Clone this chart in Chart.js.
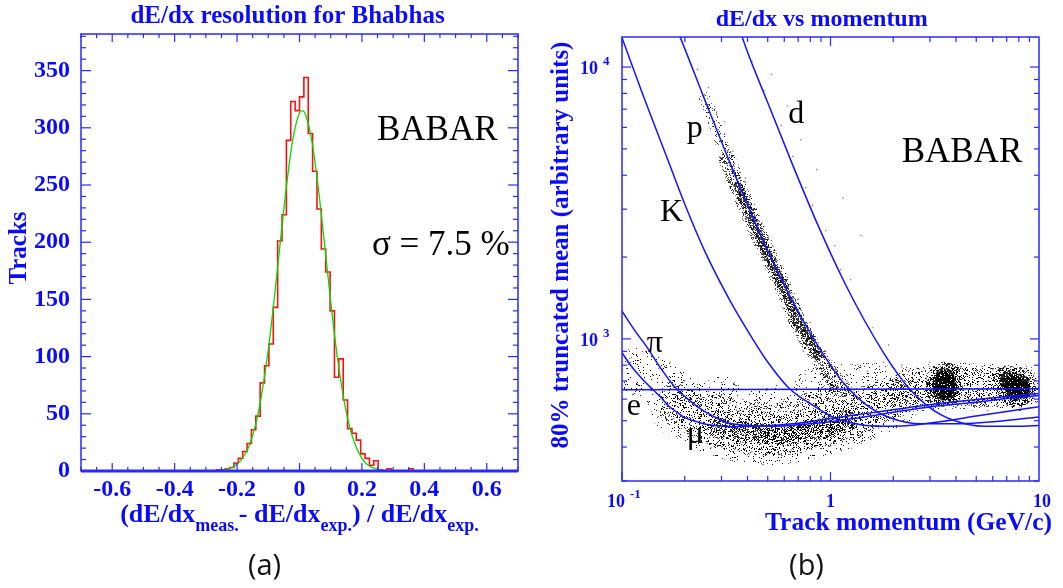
<!DOCTYPE html>
<html>
<head>
<meta charset="utf-8">
<script src="https://cdn.jsdelivr.net/npm/chart.js@4.4.1/dist/chart.umd.min.js"></script>
<style>
  html, body { margin: 0; padding: 0; background: #fff; }
  #wrap { position: relative; width: 1063px; height: 588px; overflow: hidden; }
  #left { position: absolute; left: 0; top: 0; }
  #right { position: absolute; left: 531px; top: 0; }
</style>
</head>
<body>
<div id="wrap">
  <canvas id="left" width="531" height="588"></canvas>
  <canvas id="right" width="532" height="588"></canvas>
</div>
<script>
const BLUE = '#0a0aff';
const FRAME = '#2a2aff';
const CURVE = '#1414ff';
const SERIF = '"Liberation Serif", "Times New Roman", serif';
const RIGHT_OFFSET = 531;

// ---- (a) dE/dx resolution for Bhabhas
const binStart = -0.294;
const binWidth = 0.014;
const binCounts = [0, 0, 1, 1, 2, 3, 7, 11, 17, 24, 36, 48, 77, 92, 111, 143,
  201, 224, 289, 323, 315, 327, 344, 295, 262, 229, 194, 174, 140, 82, 98, 62,
  37, 33, 27, 15, 11, 5, 9, 1, 0, 2, 0, 0, 0, 0, 2, 0];
const fitX = [-0.28, -0.26, -0.24, -0.22, -0.2, -0.18, -0.16, -0.14, -0.12, -0.1,
  -0.08, -0.06, -0.04, -0.02, 0, 0.01, 0.02, 0.04, 0.06, 0.08, 0.1, 0.12, 0.14,
  0.16, 0.18, 0.2, 0.22, 0.24, 0.26, 0.28];
const fitY = [0.2, 0.4, 1.1, 2.6, 5.8, 12, 23, 41, 69, 106, 153, 204, 253, 292,
  313, 315, 311, 288, 248, 199, 148, 102, 66, 39, 22, 11, 5, 2.4, 1, 0.4];
const leftXTicks = [-0.6, -0.4, -0.2, 0, 0.2, 0.4, 0.6];
const leftXLabels = ['-0.6', '-0.4', '-0.2', '0', '0.2', '0.4', '0.6'];
const leftYTicks = [0, 50, 100, 150, 200, 250, 300, 350];

// ---- (b) dE/dx vs momentum: expected curves [p (GeV/c), dE/dx]
const eLine = [[0.1, 650], [10, 656]];
const muCurve = [[0.1, 889], [0.11, 800], [0.1217, 729], [0.1404, 651], [0.155, 605],
  [0.168, 565], [0.185, 535], [0.201, 512], [0.23, 495], [0.258, 484], [0.3, 478],
  [0.344, 475], [0.45, 477], [0.55, 481], [0.729, 491], [0.85, 500], [1.04, 512],
  [1.5, 532], [2.1, 552], [3.05, 574], [5, 598], [7, 614], [10, 630]];
const piCurve = [[0.1, 1265], [0.115, 1075], [0.1308, 940], [0.15, 800], [0.1805, 661],
  [0.21, 595], [0.24, 550], [0.28, 515], [0.32, 491], [0.38, 482], [0.441, 478],
  [0.53, 477], [0.631, 480], [0.8, 487], [1.04, 498], [1.5, 518], [2.1, 540],
  [3.05, 563], [5, 585], [7, 603], [10, 619]];
const kCurve = [[0.1, 12830], [0.1259, 7907], [0.166, 4550], [0.1995, 3148], [0.251, 2080],
  [0.331, 1374], [0.411, 1037], [0.491, 838], [0.631, 660], [0.84, 564], [1.04, 513],
  [1.4, 483], [1.8, 477], [2.3, 479], [3.5, 498], [5, 520], [7, 541], [10, 563]];
const pCurve = [[0.186, 13400], [0.1905, 12830], [0.249, 7606], [0.331, 4405], [0.441, 2613],
  [0.5876, 1627], [0.729, 1190], [0.9, 905], [1.04, 766], [1.18, 675], [1.49, 571],
  [1.914, 514], [2.736, 487], [4.2, 487], [6.24, 497], [10, 516]];
const dCurve = [[0.372, 13400], [0.381, 12600], [0.498, 7450], [0.662, 4320], [0.882, 2560],
  [1.175, 1595], [1.458, 1166], [1.8, 887], [2.08, 751], [2.36, 662], [2.98, 560],
  [3.83, 504], [5.47, 477], [8.4, 477], [10, 480]];

// track populations
const protonBand = [[0.25, 7700], [0.28, 6100], [0.32, 4550], [0.36, 3650], [0.4, 3000],
  [0.45, 2440], [0.5, 2050], [0.55, 1750], [0.6, 1520], [0.65, 1310], [0.7, 1140],
  [0.78, 990], [0.87, 865], [0.95, 780], [1.05, 705], [1.15, 655]];
const lowHaze = [[0.18, 620], [0.18, 540], [0.2, 590],
  [0.22, 560], [0.22, 500], [0.25, 530], [0.25, 470], [0.28, 510], [0.28, 450], [0.32, 490],
  [0.32, 440], [0.36, 480], [0.36, 430], [0.4, 470], [0.4, 425], [0.45, 465], [0.45, 425],
  [0.5, 460], [0.5, 420], [0.56, 460], [0.56, 420], [0.62, 465], [0.62, 425], [0.7, 470],
  [0.7, 430], [0.78, 480], [0.78, 440], [0.87, 490], [0.87, 445], [0.97, 510], [0.97, 455],
  [1.1, 530], [1.1, 470], [1.25, 560], [1.25, 490], [1.45, 590], [1.45, 510], [1.7, 620],
  [1.7, 540], [2, 640], [2, 570], [0.3, 560], [0.45, 530], [0.6, 520], [0.8, 560], [1.0, 600]];
const edgeHaze = [[0.12, 760], [0.135, 720], [0.15, 680], [0.165, 650], [0.3, 600],
  [0.5, 560], [0.85, 640], [1.05, 680], [1.3, 660], [1.6, 680]];
const plateauHaze = [[2.4, 650], [2.9, 660], [3.5, 670], [4.2, 670], [5, 665], [5.8, 665],
  [6.6, 665], [7.4, 665], [8, 662]];
const lowCore = [[0.3, 468], [0.38, 455], [0.45, 448], [0.52, 445], [0.6, 445], [0.68, 450],
  [0.76, 455], [0.85, 462], [0.95, 472], [1.05, 482], [1.2, 500]];
const blobCores = [[3.42, 690], [3.6, 690], [3.45, 645], [3.62, 648], [3.52, 720],
  [7.5, 680], [8.05, 685], [7.7, 645], [8.15, 650], [7.2, 700]];
const sparseTracks = [[0.42, 10500], [0.48, 8200], [0.52, 9400], [0.58, 6100], [0.62, 7200],
  [0.66, 4700], [0.72, 5400], [0.76, 3600], [0.82, 3100], [0.86, 4200], [0.95, 2500],
  [1.05, 2200], [1.12, 1800], [1.25, 1650], [1.35, 1300], [1.6, 1100], [1.9, 950],
  [1.15, 3300], [1.4, 2400], [0.23, 9800], [0.26, 8400], [0.29, 5900], [0.31, 6300],
  [0.34, 4900], [0.37, 3300], [0.39, 3900], [0.43, 2800], [0.47, 2100], [0.52, 2300],
  [0.54, 1600], [0.58, 1850], [0.64, 1180], [0.7, 1400], [0.74, 900], [0.8, 1150],
  [0.86, 780], [0.95, 900], [0.11, 820], [0.13, 900], [0.15, 780], [0.17, 820], [0.2, 700],
  [0.23, 680], [0.26, 640], [0.3, 620], [0.33, 580], [0.38, 600], [0.42, 560], [0.48, 540],
  [0.55, 560], [0.6, 600], [0.65, 540], [0.72, 580], [0.9, 620], [1.2, 700], [1.5, 760],
  [1.8, 820], [2.2, 800], [2.6, 780], [3, 820], [4.2, 790], [5, 760], [6, 770], [7, 780],
  [9, 700], [0.3, 400], [0.36, 390], [0.42, 385], [0.5, 380], [0.58, 375], [0.65, 390],
  [0.75, 395], [0.85, 400], [1, 410], [1.2, 430], [1.4, 440], [1.7, 470], [2, 500],
  [2.5, 540], [3, 560], [4, 560], [5.5, 570], [7, 575]];
const rightXTicks = [0.1, 1, 10];
const rightXLabels = [['10', '-1'], ['1', ''], ['10', '']];
const rightYTicks = [1000, 10000];
const rightYLabels = [['10', '3'], ['10', '4']];

const pts = (arr) => arr.map(([x, y]) => ({ x, y }));

function seg(ctx, x1, y1, x2, y2) {
  ctx.beginPath();
  ctx.moveTo(x1, y1);
  ctx.lineTo(x2, y2);
  ctx.stroke();
}

function txt(ctx, s, x, y, font, color, align, base) {
  ctx.font = font;
  ctx.fillStyle = color;
  ctx.textAlign = align || 'left';
  ctx.textBaseline = base || 'alphabetic';
  ctx.fillText(s, x, y);
}

function vtxt(ctx, s, x, y, font) {
  ctx.save();
  ctx.translate(x, y);
  ctx.rotate(-Math.PI / 2);
  txt(ctx, s, 0, 0, font, BLUE, 'center', 'middle');
  ctx.restore();
}

// fixed stipple texture so the track clouds look dotted, not smooth
function speckle(ctx, density, seed) {
  const size = 97;
  const c = document.createElement('canvas');
  c.width = c.height = size;
  const g = c.getContext('2d');
  const img = g.createImageData(size, size);
  for (let j = 0; j < size; j++) {
    for (let i = 0; i < size; i++) {
      let h = Math.imul(i + 1, 73856093) ^ Math.imul(j + 1, 19349663) ^ Math.imul(seed, 83492791);
      h = Math.imul(h ^ (h >>> 13), 1274126177);
      h = (h ^ (h >>> 16)) >>> 0;
      if (h % 10000 < density * 10000) img.data[(j * size + i) * 4 + 3] = 150 + (h % 100);
    }
  }
  g.putImageData(img, 0, 0);
  return ctx.createPattern(c, 'repeat');
}

const leftFrame = {
  id: 'leftFrame',
  afterDraw(chart) {
    const { ctx, chartArea: a, scales: { x, y } } = chart;
    ctx.save();
    ctx.strokeStyle = FRAME;
    ctx.lineWidth = 1.5;
    ctx.strokeRect(a.left, a.top, a.right - a.left, a.bottom - a.top);
    ctx.lineWidth = 3;
    seg(ctx, a.left, a.bottom, a.right, a.bottom);
    ctx.lineWidth = 1.2;
    for (let k = -14; k <= 14; k++) {
      const px = x.getPixelForValue(k * 0.05);
      const len = k % 4 === 0 ? 8 : 4;
      seg(ctx, px, a.bottom, px, a.bottom - len);
      seg(ctx, px, a.top, px, a.top + len);
    }
    for (let v = 0; v <= 380; v += 10) {
      const py = y.getPixelForValue(v);
      const len = v % 50 === 0 ? 10 : 5;
      seg(ctx, a.left, py, a.left + len, py);
      seg(ctx, a.right, py, a.right - len, py);
    }
    const tickFont = 'bold 24px ' + SERIF;
    leftXTicks.forEach((v, i) => {
      txt(ctx, leftXLabels[i], x.getPixelForValue(v), 490, tickFont, BLUE, 'center', 'middle');
    });
    leftYTicks.forEach((v) => {
      txt(ctx, String(v), a.left - 11, y.getPixelForValue(v), tickFont, BLUE, 'right', 'middle');
    });
    txt(ctx, 'dE/dx resolution for Bhabhas', 287.5, 23, 'bold 25px ' + SERIF, BLUE, 'center');
    vtxt(ctx, 'Tracks', 20, 248, 'bold 25px ' + SERIF);

    // x title with subscripts, centred on zero
    const parts = [['(dE/dx', 0], ['meas.', 1], ['- dE/dx', 0], ['exp.', 1], [') / dE/dx', 0], ['exp.', 1]];
    const big = 'bold 26px ' + SERIF, small = 'bold 18px ' + SERIF;
    let total = 0;
    parts.forEach(([s, sub]) => { ctx.font = sub ? small : big; total += ctx.measureText(s).width; });
    let cx = x.getPixelForValue(0) - total / 2;
    parts.forEach(([s, sub]) => {
      txt(ctx, s, cx, sub ? 531 : 522, sub ? small : big, BLUE, 'left');
      cx += ctx.measureText(s).width;
    });

    txt(ctx, 'BABAR', 377, 140, '35px ' + SERIF, '#000', 'left');
    txt(ctx, '\u03c3 = 7.5 %', 372, 255, '35px ' + SERIF, '#000', 'left');
    txt(ctx, '(a)', 264.5, 575, '29px "Open Sans", "Noto Sans", sans-serif', '#111', 'center');
    ctx.restore();
  },
};

const histPoints = binCounts.map((c, i) => ({ x: binStart + i * binWidth, y: c }));
histPoints.push({ x: binStart + binCounts.length * binWidth, y: 0 });

new Chart(document.getElementById('left'), {
  type: 'line',
  data: {
    datasets: [
      {
        data: fitX.map((x, i) => ({ x, y: fitY[i] })),
        borderColor: '#00dd00',
        borderWidth: 1.3,
        pointRadius: 0,
        cubicInterpolationMode: 'monotone',
        clip: 0,
      },
      {
        data: histPoints,
        stepped: true,
        borderColor: '#ff1010',
        borderWidth: 1.6,
        pointRadius: 0,
        clip: 0,
      },
    ],
  },
  options: {
    responsive: false,
    animation: false,
    events: [],
    layout: { padding: { left: 81, top: 34, right: 13, bottom: 117 } },
    scales: {
      x: { type: 'linear', min: -0.7, max: 0.7, display: false },
      y: { type: 'linear', min: 0, max: 382, display: false },
    },
    plugins: { legend: { display: false }, tooltip: { enabled: false } },
  },
  plugins: [leftFrame],
});

// ---------------- right panel
function supLabel(ctx, base, sup, x, y) {
  const f1 = 'bold 18px ' + SERIF, f2 = 'bold 13px ' + SERIF;
  txt(ctx, base, x, y, f1, BLUE, 'left');
  const w = ctx.measureText(base).width;
  if (sup) txt(ctx, sup, x + w + 5, y - 9, f2, BLUE, 'left');
}

const rightFrame = {
  id: 'rightFrame',
  afterDraw(chart) {
    const { ctx, chartArea: a, scales: { x, y } } = chart;
    ctx.save();
    ctx.strokeStyle = FRAME;
    ctx.lineWidth = 1.5;
    ctx.strokeRect(a.left, a.top, a.right - a.left, a.bottom - a.top);
    ctx.lineWidth = 1.2;
    [0.1, 1].forEach((dec) => {
      for (let m = 1; m <= 9; m++) {
        const px = x.getPixelForValue(dec * m);
        const len = m === 1 ? 9 : 5;
        seg(ctx, px, a.bottom, px, a.bottom - len);
        seg(ctx, px, a.top, px, a.top + len);
      }
    });
    [100, 1000, 10000].forEach((dec) => {
      for (let m = 1; m <= 9; m++) {
        const v = dec * m;
        if (v < y.min || v > y.max) continue;
        const py = y.getPixelForValue(v);
        const len = m === 1 ? 9 : 5;
        seg(ctx, a.left, py, a.left + len, py);
        seg(ctx, a.right, py, a.right - len, py);
      }
    });
    rightYTicks.forEach((v, i) => {
      const py = y.getPixelForValue(v);
      supLabel(ctx, rightYLabels[i][0], rightYLabels[i][1], a.left - 42, py + 7);
    });
    rightXTicks.forEach((v, i) => {
      const px = x.getPixelForValue(v);
      const [b, s] = rightXLabels[i];
      if (s) supLabel(ctx, b, s, px - 15, 507);
      else if (i === 1) txt(ctx, b, px, 507, 'bold 18px ' + SERIF, BLUE, 'center');
      else txt(ctx, b, px - 6, 507, 'bold 18px ' + SERIF, BLUE, 'left');
    });
    const o = RIGHT_OFFSET;
    txt(ctx, 'dE/dx vs momentum', 821.7 - o, 26, 'bold 24px ' + SERIF, BLUE, 'center');
    txt(ctx, 'Track momentum (GeV/c)', 1052 - o, 530, 'bold 25.5px ' + SERIF, BLUE, 'right');
    vtxt(ctx, '80% truncated mean (arbitrary units)', 562 - o, 245, 'bold 25px ' + SERIF);

    const lab = '32px ' + SERIF;
    txt(ctx, 'p', 686.7 - o, 137, lab, '#000');
    txt(ctx, 'd', 788.3 - o, 123, lab, '#000');
    txt(ctx, 'K', 660 - o, 221, lab, '#000');
    txt(ctx, '\u03c0', 646.7 - o, 352, lab, '#000');
    txt(ctx, 'e', 626.7 - o, 415, lab, '#000');
    txt(ctx, '\u03bc', 686.7 - o, 443, lab, '#000');
    txt(ctx, 'BABAR', 901.7 - o, 162, '35px ' + SERIF, '#000');
    txt(ctx, '(b)', 806.5 - o, 575, '29px "Open Sans", "Noto Sans", sans-serif', '#111', 'center');
    ctx.restore();
  },
};

const curve = (arr) => ({
  data: pts(arr),
  showLine: true,
  borderColor: CURVE,
  borderWidth: 1.5,
  pointRadius: 0,
  cubicInterpolationMode: 'monotone',
  clip: 0,
  order: 0,
});

const rctx = document.getElementById('right').getContext('2d');
const dots = (arr, r, density, seed, order) => ({
  data: pts(arr), pointRadius: r, backgroundColor: speckle(rctx, density, seed),
  borderWidth: 0, clip: 0, order,
});
const band = (arr, w, density, seed, order) => ({
  data: pts(arr), showLine: true, borderWidth: w, borderColor: speckle(rctx, density, seed),
  pointRadius: 0, cubicInterpolationMode: 'monotone', borderCapStyle: 'round', clip: 0, order,
});
const bandPart = (lo, hi) => protonBand.filter(([p]) => p >= lo && p <= hi);

new Chart(rctx, {
  type: 'scatter',
  data: {
    datasets: [
      curve(eLine), curve(muCurve), curve(piCurve), curve(kCurve), curve(pCurve), curve(dCurve),
      { data: pts(sparseTracks), pointRadius: 0.7, backgroundColor: 'rgba(0,0,0,0.6)', borderWidth: 0, clip: 0, order: 2 },
      dots(blobCores, 10, 0.85, 11, 3),
      dots(blobCores, 16, 0.3, 12, 4),
      band(bandPart(0.36, 0.87), 9, 0.6, 13, 3),
      band(bandPart(0.32, 1.2), 17, 0.22, 14, 4),
      band(protonBand, 12, 0.1, 19, 5),
      dots(lowCore, 11, 0.32, 15, 4),
      dots(lowHaze, 15, 0.17, 16, 5),
      dots(plateauHaze, 20, 0.17, 17, 5),
      dots(lowHaze.concat(plateauHaze, edgeHaze), 24, 0.06, 18, 6),
    ],
  },
  options: {
    responsive: false,
    animation: false,
    events: [],
    layout: { padding: { left: 91, top: 37, right: 12, bottom: 107 } },
    scales: {
      x: { type: 'logarithmic', min: 0.1, max: 10, display: false },
      y: { type: 'logarithmic', min: 300, max: 12900, display: false },
    },
    plugins: { legend: { display: false }, tooltip: { enabled: false } },
  },
  plugins: [rightFrame],
});
</script>
</body>
</html>
